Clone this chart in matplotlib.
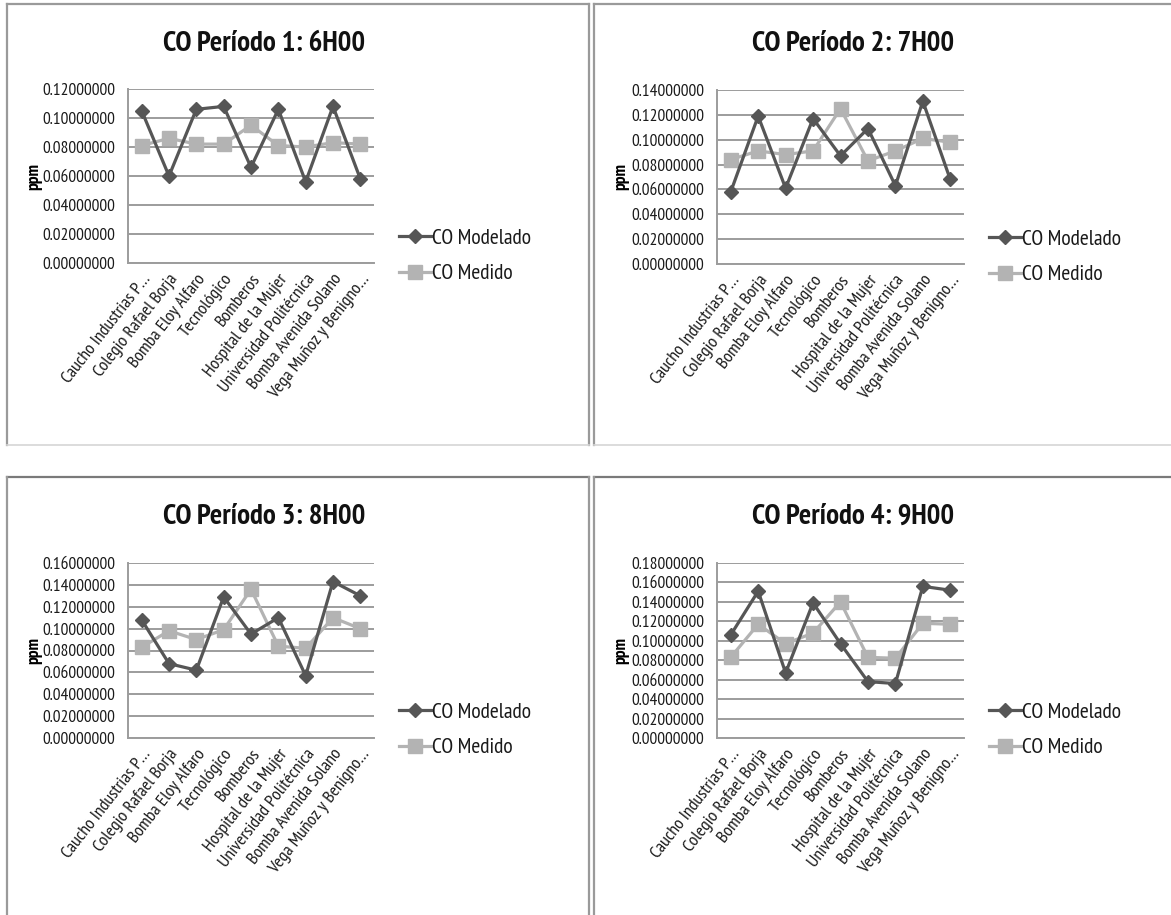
import matplotlib
matplotlib.use("Agg")
import matplotlib.pyplot as plt
from matplotlib.lines import Line2D

W, H = 1171, 915

categories = ["Caucho Industrias P…", "Colegio Rafael Borja", "Bomba Eloy Alfaro",
              "Tecnológico", "Bomberos", "Hospital de la Mujer",
              "Universidad Politécnica", "Bomba Avenida Solano", "Vega Muñoz y Benigno…"]

titles = ["CO Período 1: 6H00", "CO Período 2: 7H00", "CO Período 3: 8H00", "CO Período 4: 9H00"]

modelado_p1 = [0.105, 0.060, 0.106, 0.108, 0.066, 0.106, 0.056, 0.108, 0.058]
medido_p1 = [0.081, 0.086, 0.082, 0.082, 0.095, 0.081, 0.080, 0.083, 0.082]

modelado_p2 = [0.058, 0.119, 0.061, 0.117, 0.087, 0.109, 0.063, 0.131, 0.068]
medido_p2 = [0.084, 0.091, 0.088, 0.091, 0.125, 0.083, 0.091, 0.101, 0.098]

modelado_p3 = [0.108, 0.068, 0.062, 0.129, 0.095, 0.110, 0.057, 0.143, 0.130]
medido_p3 = [0.083, 0.098, 0.090, 0.099, 0.136, 0.084, 0.082, 0.110, 0.100]

modelado_p4 = [0.106, 0.151, 0.067, 0.139, 0.097, 0.058, 0.056, 0.156, 0.152]
medido_p4 = [0.083, 0.117, 0.097, 0.108, 0.140, 0.083, 0.082, 0.118, 0.117]

ymax = [0.12, 0.14, 0.16, 0.18]
series_mod = [modelado_p1, modelado_p2, modelado_p3, modelado_p4]
series_med = [medido_p1, medido_p2, medido_p3, medido_p4]

FONT = ["PT Sans Narrow", "Roboto Condensed", "Fira Sans Condensed", "DejaVu Sans"]
plt.rcParams["font.family"] = FONT

DARK = "#565656"
LIGHT = "#b3b3b3"
GRID = "#9c9c9c"
FRAME = "#9a9a9a"
TXT = "#1a1a1a"

fig = plt.figure(figsize=(W / 100, H / 100), dpi=100)

# panel layout in pixels: (frame_left, frame_top, plot_left, plot_top, plot_right, plot_bottom)
panels = [
    (7, 4, 128, 89, 374, 263),
    (594, 4, 717, 90, 964, 264),
    (7, 477, 128, 563, 374, 738),
    (594, 477, 717, 563, 964, 738),
]


def fx(x):
    return x / W


def fy(y):
    return 1 - y / H


def fline(xs, ys, color, lw=1.3):
    fig.add_artist(Line2D([fx(v) for v in xs], [fy(v) for v in ys],
                          transform=fig.transFigure, color=color, lw=lw))


for i, (fl, ft, pl, pt, pr, pb) in enumerate(panels):
    # frame of each chart
    fr = 589 if fl < 300 else W + 5
    fb = 445 if ft < 300 else H + 5
    top_col = FRAME if ft < 300 else "#7a7a7a"
    fline([fl, fr], [ft, ft], top_col, 1.6)
    fline([fl, fl], [ft, fb], FRAME, 1.6)
    if fl < 300:
        fline([fr, fr], [ft, fb], FRAME, 1.6)
    if ft < 300:
        fline([fl, fr], [fb, fb], "#d6d6d6", 1.2)

    ax = fig.add_axes([fx(pl), fy(pb), fx(pr - pl), (pb - pt) / H])
    x = list(range(len(categories)))
    ax.plot(x, series_med[i], color=LIGHT, lw=2.3, marker="s", markersize=9.5,
            label="CO Medido", zorder=3)
    ax.plot(x, series_mod[i], color=DARK, lw=2.3, marker="D", markersize=7,
            label="CO Modelado", zorder=4)
    ax.set_xlim(-0.5, len(categories) - 0.5)
    ax.set_ylim(0, ymax[i])
    ticks = [k * 0.02 for k in range(int(round(ymax[i] / 0.02)) + 1)]
    ax.set_yticks(ticks)
    ax.set_yticklabels([f"{t:.8f}" for t in ticks], fontsize=12.5, color=TXT)
    ax.yaxis.grid(True, color=GRID, lw=1.4)
    ax.set_axisbelow(True)
    ax.tick_params(axis="y", length=0, pad=9)
    ax.set_xticks(x)
    ax.set_xticklabels(categories, rotation=52, ha="right", va="top",
                       rotation_mode="anchor", fontsize=13, color=TXT)
    ax.tick_params(axis="x", length=0, pad=6)
    for s in ["top", "right"]:
        ax.spines[s].set_visible(False)
    for s in ["left", "bottom"]:
        ax.spines[s].set_color(GRID)
        ax.spines[s].set_linewidth(1.4)
    ax.set_ylabel("ppm", fontsize=12.5, fontweight="bold")
    ax.yaxis.set_label_coords(-(pl - fl - 35) / (pr - pl), 0.5)

    # chart title
    fig.text(fx((pl + pr) / 2 + 13), fy(ft + 40), titles[i], fontsize=20.8,
             fontweight="bold", ha="center", va="center", color="#111111")

    # legend
    handles = [Line2D([], [], color=DARK, lw=2.3, marker="D", markersize=7),
               Line2D([], [], color=LIGHT, lw=2.3, marker="s", markersize=9.5)]
    fig.legend(handles, ["CO Modelado", "CO Medido"],
               loc="center left",
               bbox_to_anchor=(fx(pr + 14), fy(pt + 167)),
               frameon=False, fontsize=15.5, handlelength=1.5,
               handletextpad=0.05, labelspacing=0.75, borderpad=0,
               labelcolor=TXT)

fig.savefig("out.png", dpi=100, facecolor="white")
